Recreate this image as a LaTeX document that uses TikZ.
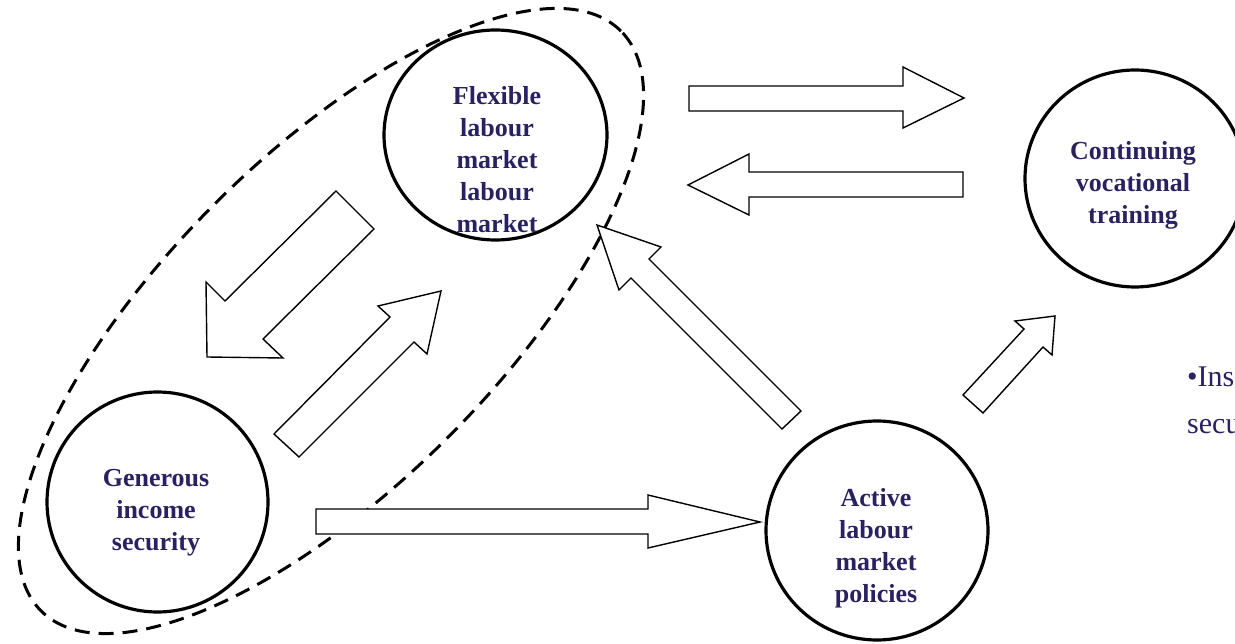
\documentclass[tikz,border=0pt]{standalone}
\usepackage{fontspec}
\setmainfont{Liberation Serif}
\usetikzlibrary{shapes.geometric}
\definecolor{navy}{RGB}{42,34,96}
\begin{document}
\begin{tikzpicture}[x=1pt,y=-1pt,
  ring/.style={draw=black,line width=3.2pt,fill=white,ellipse,inner sep=0pt},
  lbl/.style={text=navy,font=\bfseries\fontsize{26}{32}\selectfont,align=center,inner sep=0pt},
  sidetext/.style={text=navy,font=\fontsize{30}{44}\selectfont,anchor=base west,inner sep=0pt},
  blockarrow/.style={draw=black,fill=white,line width=1.4pt,line join=miter},
  group/.style={draw=black,line width=3pt,dash pattern=on 15pt off 9pt}]
\useasboundingbox (0,0) rectangle (1235,644);
\clip (0,0) rectangle (1235,644);
\fill[white] (0,0) rectangle (1235,644);

% dashed grouping ellipse
\draw[group, rotate around={45:(331,321)}] (331,321) ellipse [x radius=410pt, y radius=165pt];

% circles
\node[ring, minimum width=223pt, minimum height=210pt] (flex) at (495.5,135) {};
\node[ring, minimum width=220pt, minimum height=217pt] (cvt) at (1135,178.5) {};
\node[ring, minimum width=221pt, minimum height=220pt] (gen) at (157.5,502) {};
\node[ring, minimum width=222pt, minimum height=219pt] (alm) at (877,530.5) {};

% block arrows
\draw[blockarrow] (689,86) -- (903,86) -- (903,67) -- (964,98) -- (903,128) -- (903,111) -- (689,111) -- cycle;
\draw[blockarrow] (963,172) -- (749,172) -- (749,154) -- (688,185) -- (749,215) -- (749,197) -- (963,197) -- cycle;
\draw[blockarrow] (316,509) -- (648,509) -- (648,495) -- (760,522) -- (648,548) -- (648,534) -- (316,534) -- cycle;
\draw[blockarrow] (336,191) -- (374,229) -- (263,339) -- (283,358) -- (207,357) -- (206,282) -- (225,301) -- cycle;
\draw[blockarrow] (274,434) -- (390,317) -- (378,306) -- (441,291) -- (427,354) -- (414,342) -- (299,457) -- cycle;
\draw[blockarrow] (597,225) -- (661,247) -- (649,259) -- (801,411) -- (782,429) -- (631,278) -- (619,290) -- cycle;
\draw[blockarrow] (963,395) -- (1024,329) -- (1015,321) -- (1055,316) -- (1052,355) -- (1043,347) -- (983,413) -- cycle;

% labels
\node[lbl] (flextext) at (497,160) {Flexible\\labour\\market\\labour\\market};
\node[lbl] (cvttext) at (1133,185) {Continuing\\vocational\\training};
\node[lbl] (gentext) at (156,513) {Generous\\income\\security};
\node[lbl] (almtext) at (876,548) {Active\\labour\\market\\policies};

% cut-off side text
\node[sidetext] (ins) at (1187,387) {•Ins};
\node[sidetext] (secu) at (1187,433) {secu};
\end{tikzpicture}
\end{document}
